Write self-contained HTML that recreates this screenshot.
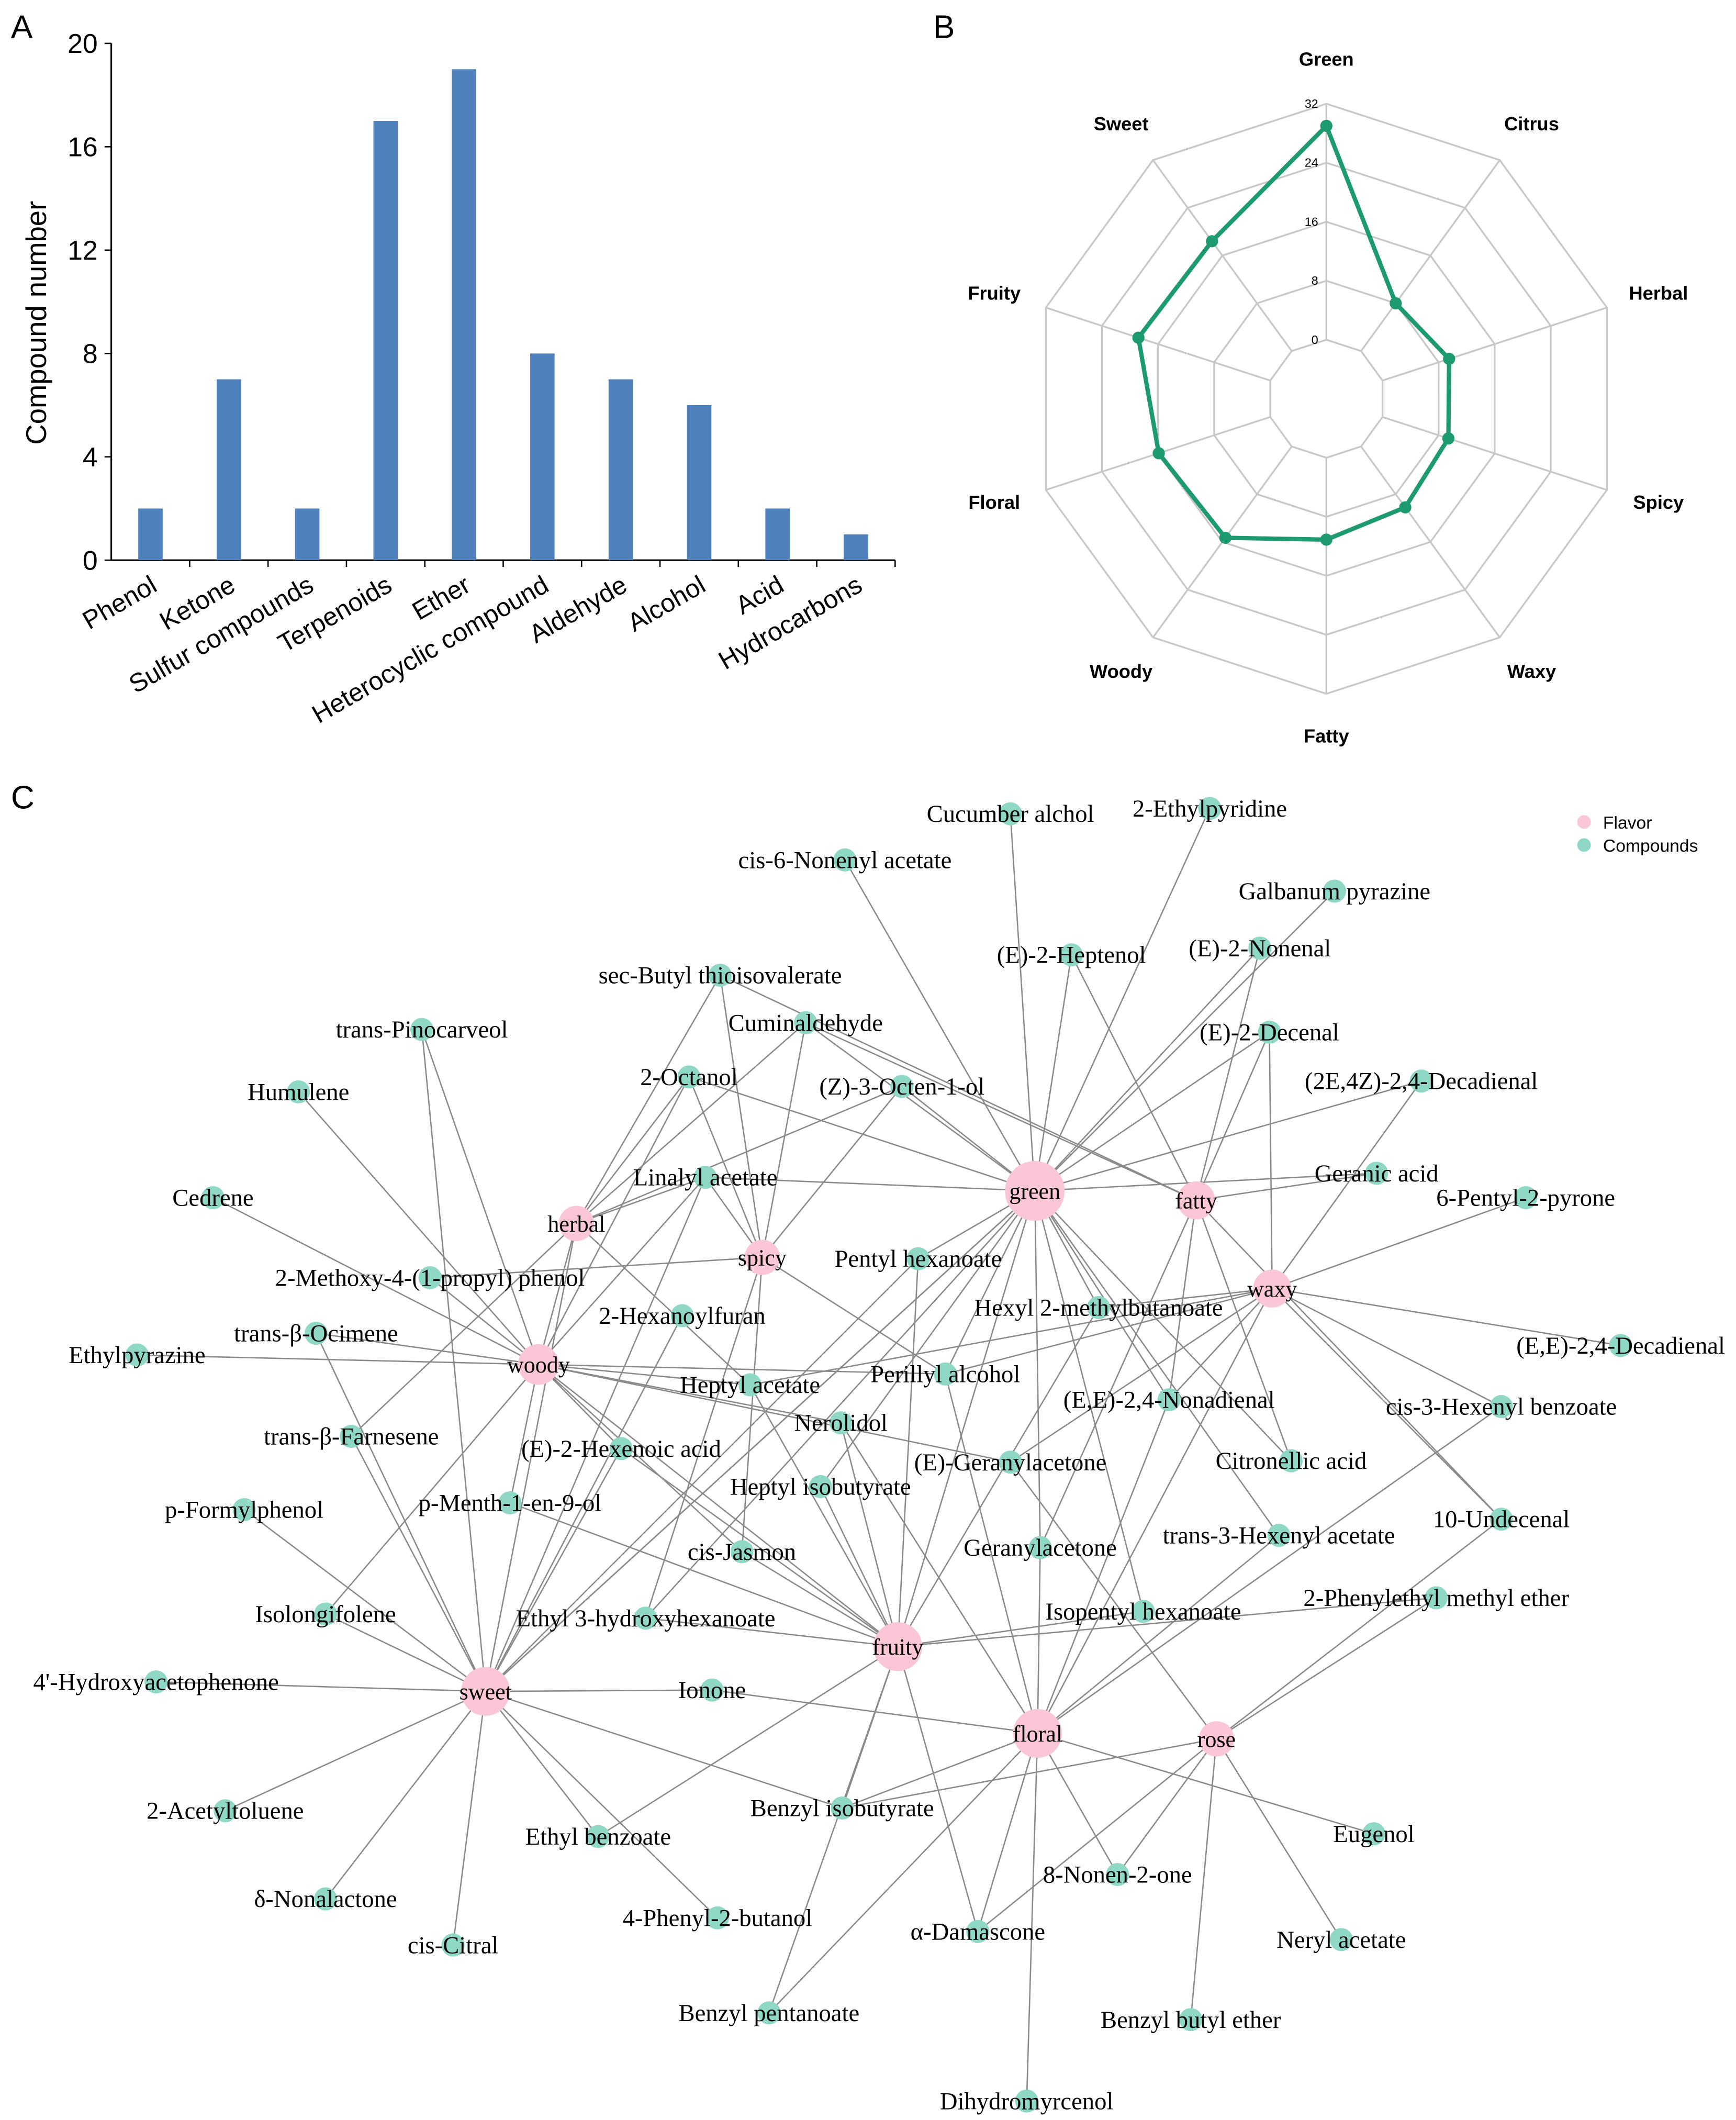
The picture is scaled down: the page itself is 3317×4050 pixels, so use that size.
<!DOCTYPE html>
<html><head><meta charset="utf-8"><style>
html,body{margin:0;padding:0;background:#fff}
svg{display:block}
.s{font-family:"Liberation Sans",sans-serif}
.r{font-family:"Liberation Serif",serif}
</style></head><body>
<svg id="root" width="3317" height="4050" viewBox="0 0 1280 1563" xmlns="http://www.w3.org/2000/svg">
<rect width="1280" height="1563" fill="#fff"/>
<text class="s" x="8" y="28" font-size="24">A</text>
<text class="s" x="688" y="28" font-size="24">B</text>
<text class="s" x="8" y="596" font-size="24">C</text>
<g id="barChart"></g>
<g id="radar"></g>
<g id="net"></g>
</svg>
<script>
const NS="http://www.w3.org/2000/svg";
function mk(p,t,a,txt){const e=document.createElementNS(NS,t);for(const k in a)e.setAttribute(k,a[k]);if(txt!==undefined)e.textContent=txt;p.appendChild(e);return e;}

// ---- Panel A data
const barCategories=["Phenol","Ketone","Sulfur compounds","Terpenoids","Ether","Heterocyclic compound","Aldehyde","Alcohol","Acid","Hydrocarbons"];
const barValues=[2,7,2,17,19,8,7,6,2,1];
const barTicks=[0,4,8,12,16,20];

// ---- Panel B data
const radarAxes=["Green","Citrus","Herbal","Spicy","Waxy","Fatty","Woody","Floral","Fruity","Sweet"];
const radarValues=[29,8,9.5,9.4,10.2,11.1,15.3,15.9,18.8,18.4];
const radarTicks=[0,8,16,24,32];

// ---- Panel A drawing
(function(){
 const g=document.getElementById('barChart');
 const x0=82,x1=660,yTop=32,yBot=413,vmax=20;
 const y=v=>yBot-(v/vmax)*(yBot-yTop);
 const step=(x1-x0)/barCategories.length;
 const xc=i=>x0+step*(i+0.5);
 let ax=mk(g,'line',{x1:x0,y1:yTop,x2:x0,y2:yBot,stroke:'#000','stroke-width':1.2});
 
 let bx=mk(g,'line',{x1:x0,y1:yBot,x2:x1,y2:yBot,stroke:'#000','stroke-width':1.2});
 
 barTicks.forEach(t=>{
  mk(g,'line',{x1:x0-5,y1:y(t),x2:x0,y2:y(t),stroke:'#000'});
  const tl=mk(g,'text',{x:x0-10,y:y(t)+7,'text-anchor':'end','font-size':20,class:'s'},t);
  
 });
 barCategories.forEach((c,i)=>{
  mk(g,'line',{x1:x0+step*(i+1),y1:yBot,x2:x0+step*(i+1),y2:yBot+5,stroke:'#000'});
  const b=mk(g,'rect',{x:xc(i)-9,y:y(barValues[i]),width:18,height:yBot-y(barValues[i]),fill:'#4f81bd'});
  
  const tx=xc(i)+6,ty=yBot+22;
  const l=mk(g,'text',{x:tx,y:ty,'text-anchor':'end','font-size':19,class:'s',transform:`rotate(-30 ${tx} ${ty})`},c);
  
 });
 const yt=mk(g,'text',{x:34,y:238,'text-anchor':'middle','font-size':21,class:'s',transform:'rotate(-90 34 238)'},'Compound number');
 
})();

// ---- Panel B drawing
(function(){
 const g=document.getElementById('radar');
 const cx=978,cy=294,ring=43.5,tmax=32;
 const rad=v=>ring+(v/tmax)*ring*4;
 const n=radarAxes.length;
 const pt=(i,r)=>[cx+r*Math.sin(2*Math.PI*i/n),cy-r*Math.cos(2*Math.PI*i/n)];
 radarTicks.forEach(t=>{
  const pts=radarAxes.map((a,i)=>pt(i,rad(t)).join(',')).join(' ');
  mk(g,'polygon',{points:pts,fill:'none',stroke:'#c8c8c8','stroke-width':1.3});
  const tl=mk(g,'text',{x:cx-6,y:cy-rad(t)+3,'text-anchor':'end','font-size':9,class:'s'},t);
  
 });
 radarAxes.forEach((a,i)=>{
  const [x2,y2]=pt(i,rad(tmax));const [xa,ya]=pt(i,rad(0));
  mk(g,'line',{x1:xa,y1:ya,x2:x2,y2:y2,stroke:'#c8c8c8','stroke-width':1.3});
  const [lx,ly]=pt(i,rad(tmax)+32);
  const l=mk(g,'text',{x:lx+(Math.sin(2*Math.PI*i/n)*8),y:ly+4,'text-anchor':'middle','font-size':14,'font-weight':'bold',class:'s'},a);
  
 });
 const pts=radarValues.map((v,i)=>pt(i,rad(v)));
 const pl=mk(g,'polygon',{points:pts.map(p=>p.join(',')).join(' '),fill:'none',stroke:'#1e9b6e','stroke-width':3.2});
 
 pts.forEach((p,i)=>{
  const c=mk(g,'circle',{cx:p[0],cy:p[1],r:4.5,fill:'#1e9b6e'});
  
 });
})();

// ---- Panel C data
const flavorNodes=[["green",763,878,22],["fatty",882,885,14],["waxy",938,950,14],["herbal",425,902,13],["spicy",562,927,13],["woody",397,1006,15],["sweet",358,1247,18],["fruity",662,1214,18],["floral",765,1278,18],["rose",897,1282,13]];
const compoundNodes=[
["Cucumber alchol",745,600],["2-Ethylpyridine",892,596],["cis-6-Nonenyl acetate",623,634],["Galbanum pyrazine",984,657],
["(E)-2-Heptenol",790,704],["(E)-2-Nonenal",929,699],["sec-Butyl thioisovalerate",531,719],["trans-Pinocarveol",311,759],
["Cuminaldehyde",594,754],["(E)-2-Decenal",936,761],["Humulene",220,805],["2-Octanol",508,794],["(Z)-3-Octen-1-ol",665,801],
["(2E,4Z)-2,4-Decadienal",1048,797],["Linalyl acetate",520,868],["Geranic acid",1015,865],["Cedrene",157,883],
["6-Pentyl-2-pyrone",1125,883],["2-Methoxy-4-(1-propyl) phenol",317,942],["Pentyl hexanoate",677,928],["2-Hexanoylfuran",503,970],
["Hexyl 2-methylbutanoate",810,964],["trans-β-Ocimene",233,983],["(E,E)-2,4-Decadienal",1195,992],["Ethylpyrazine",101,999],
["Perillyl alcohol",697,1013],["Heptyl acetate",553,1021],["(E,E)-2,4-Nonadienal",862,1032],["cis-3-Hexenyl benzoate",1107,1037],
["trans-β-Farnesene",259,1059],["Nerolidol",620,1049],["(E)-2-Hexenoic acid",458,1068],["(E)-Geranylacetone",745,1078],
["Citronellic acid",952,1077],["p-Formylphenol",180,1113],["p-Menth-1-en-9-ol",376,1108],["Heptyl isobutyrate",605,1096],
["10-Undecenal",1107,1120],["cis-Jasmon",547,1144],["Geranylacetone",767,1141],["trans-3-Hexenyl acetate",943,1132],
["2-Phenylethyl methyl ether",1059,1178],["Isolongifolene",240,1190],["Ethyl 3-hydroxyhexanoate",476,1193],["Isopentyl hexanoate",843,1188],
["4'-Hydroxyacetophenone",115,1240],["Ionone",525,1246],["2-Acetyltoluene",166,1335],["Benzyl isobutyrate",621,1333],
["Eugenol",1013,1352],["Ethyl benzoate",441,1354],["8-Nonen-2-one",824,1382],["δ-Nonalactone",240,1400],
["4-Phenyl-2-butanol",529,1414],["α-Damascone",721,1424],["Neryl acetate",989,1430],["cis-Citral",334,1434],
["Benzyl pentanoate",567,1484],["Benzyl butyl ether",878,1489],["Dihydromyrcenol",757,1549]];
const edgeList={
 green:["Cucumber alchol","2-Ethylpyridine","cis-6-Nonenyl acetate","Galbanum pyrazine","(E)-2-Heptenol","(E)-2-Nonenal","(E)-2-Decenal","Cuminaldehyde","(Z)-3-Octen-1-ol","2-Octanol","Linalyl acetate","Geranic acid","(2E,4Z)-2,4-Decadienal","Hexyl 2-methylbutanoate","(E,E)-2,4-Nonadienal","Citronellic acid","Perillyl alcohol","trans-3-Hexenyl acetate","Isopentyl hexanoate","Geranylacetone","Ethyl 3-hydroxyhexanoate","Heptyl isobutyrate","sweet","Pentyl hexanoate"],
 fatty:["(E)-2-Heptenol","(E)-2-Nonenal","(E)-2-Decenal","sec-Butyl thioisovalerate","Cuminaldehyde","(E,E)-2,4-Nonadienal","Citronellic acid","10-Undecenal","Geranylacetone","Geranic acid"],
 waxy:["(2E,4Z)-2,4-Decadienal","6-Pentyl-2-pyrone","(E,E)-2,4-Decadienal","cis-3-Hexenyl benzoate","10-Undecenal","Hexyl 2-methylbutanoate","(E)-Geranylacetone","Heptyl acetate","Perillyl alcohol","(E,E)-2,4-Nonadienal","floral","(E)-2-Decenal"],
 herbal:["2-Octanol","sec-Butyl thioisovalerate","Cuminaldehyde","(Z)-3-Octen-1-ol","Linalyl acetate","trans-β-Farnesene","Heptyl acetate","sweet"],
 spicy:["sec-Butyl thioisovalerate","Cuminaldehyde","2-Octanol","Linalyl acetate","2-Methoxy-4-(1-propyl) phenol","Perillyl alcohol","cis-Jasmon","Ethyl 3-hydroxyhexanoate","(Z)-3-Octen-1-ol"],
 woody:["trans-Pinocarveol","Humulene","Cedrene","Ethylpyrazine","2-Methoxy-4-(1-propyl) phenol","trans-β-Ocimene","Nerolidol","Heptyl acetate","(E)-Geranylacetone","Linalyl acetate","p-Menth-1-en-9-ol","(E)-2-Hexenoic acid","cis-Jasmon","Perillyl alcohol","2-Octanol","fruity","Isolongifolene","herbal"],
 sweet:["trans-β-Ocimene","trans-β-Farnesene","p-Formylphenol","Isolongifolene","4'-Hydroxyacetophenone","2-Acetyltoluene","δ-Nonalactone","cis-Citral","Ethyl benzoate","4-Phenyl-2-butanol","Ionone","Benzyl isobutyrate","(E)-2-Hexenoic acid","2-Hexanoylfuran","Pentyl hexanoate","green","Linalyl acetate","trans-Pinocarveol"],
 fruity:["Pentyl hexanoate","Heptyl acetate","Heptyl isobutyrate","cis-Jasmon","Ethyl 3-hydroxyhexanoate","p-Menth-1-en-9-ol","Nerolidol","Isopentyl hexanoate","Benzyl isobutyrate","Benzyl pentanoate","α-Damascone","Ethyl benzoate","green","2-Phenylethyl methyl ether","(E)-2-Hexenoic acid","Hexyl 2-methylbutanoate"],
 floral:["Geranylacetone","Dihydromyrcenol","α-Damascone","8-Nonen-2-one","Eugenol","Benzyl isobutyrate","Ionone","Nerolidol","trans-3-Hexenyl acetate","cis-3-Hexenyl benzoate","Perillyl alcohol","(E,E)-2,4-Nonadienal","Benzyl pentanoate"],
 rose:["2-Phenylethyl methyl ether","10-Undecenal","Neryl acetate","Benzyl butyl ether","α-Damascone","Benzyl isobutyrate","(E)-Geranylacetone","8-Nonen-2-one"]
};

// ---- Panel C drawing
(function(){
 const g=document.getElementById('net');
 const pos={};
 flavorNodes.forEach(f=>pos[f[0]]=[f[1],f[2]]);
 compoundNodes.forEach(c=>pos[c[0]]=[c[1],c[2]]);
 const eg=mk(g,'g',{});
 for(const f in edgeList){edgeList[f].forEach(t=>{
  if(!pos[t])return;
  const e=mk(eg,'line',{x1:pos[f][0],y1:pos[f][1],x2:pos[t][0],y2:pos[t][1],stroke:'#8a8a8a','stroke-width':1});
  
 });}
 compoundNodes.forEach(c=>{
  const n=mk(g,'circle',{cx:c[1],cy:c[2],r:8.5,fill:'#8fd8c6'});
  
 });
 flavorNodes.forEach(f=>{
  const n=mk(g,'circle',{cx:f[1],cy:f[2],r:f[3],fill:'#fbc6d6'});
  
 });
 compoundNodes.forEach(c=>{
  const l=mk(g,'text',{x:c[1],y:c[2]+6,'text-anchor':'middle','font-size':18,class:'r'},c[0]);
  
 });
 flavorNodes.forEach(f=>{
  const l=mk(g,'text',{x:f[1],y:f[2]+6,'text-anchor':'middle','font-size':17,class:'r'},f[0]);
  
 });
 const lg=mk(g,'g',{});
 
 const a=mk(lg,'circle',{cx:1168,cy:606,r:5,fill:'#fbc6d6'});
 
 const at=mk(lg,'text',{x:1182,y:611,'font-size':13,class:'s'},'Flavor');
 
 const b=mk(lg,'circle',{cx:1168,cy:623,r:5,fill:'#8fd8c6'});
 
 const bt=mk(lg,'text',{x:1182,y:628,'font-size':13,class:'s'},'Compounds');
 
})();
</script>
</body></html>
